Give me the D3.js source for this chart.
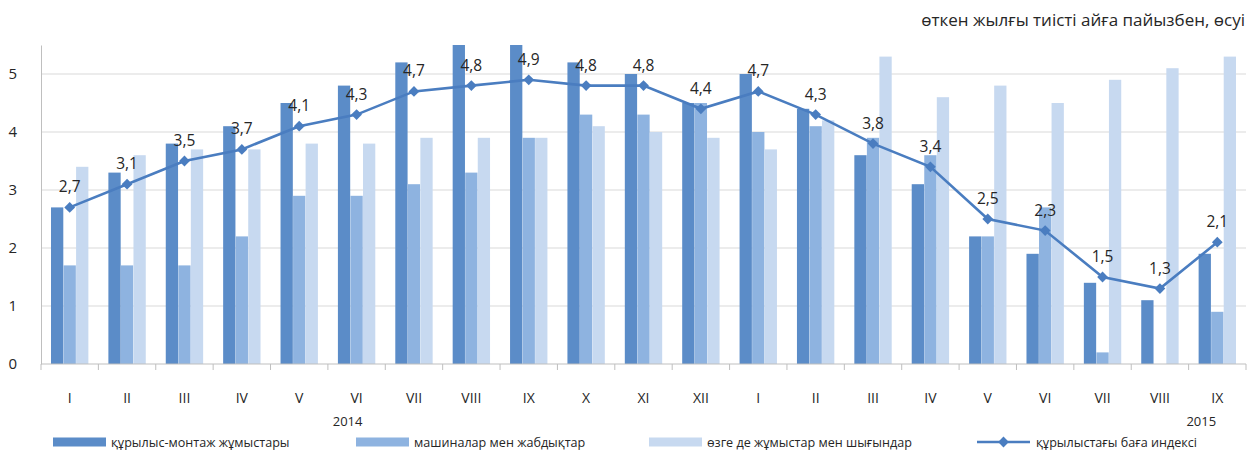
<!DOCTYPE html>
<html><head><meta charset="utf-8">
<script src="https://cdn.jsdelivr.net/npm/d3@7"></script>
<style>body{margin:0;background:#fff}svg{display:block;font-family:"Open Sans",sans-serif}</style>
</head><body><svg id="c" width="1257" height="450"></svg>
<script>
const months = ["I","II","III","IV","V","VI","VII","VIII","IX","X","XI","XII","I","II","III","IV","V","VI","VII","VIII","IX"];
const years = ["2014","2015"];
const construction = [2.7,3.3,3.8,4.1,4.5,4.8,5.2,5.5,5.5,5.2,5.0,4.5,5.0,4.4,3.6,3.1,2.2,1.9,1.4,1.1,1.9];
const machinery = [1.7,1.7,1.7,2.2,2.9,2.9,3.1,3.3,3.9,4.3,4.3,4.5,4.0,4.1,3.9,3.6,2.2,2.7,0.2,null,0.9];
const other = [3.4,3.6,3.7,3.7,3.8,3.8,3.9,3.9,3.9,4.1,4.0,3.9,3.7,4.2,5.3,4.6,4.8,4.5,4.9,5.1,5.3];
const priceIndex = [2.7,3.1,3.5,3.7,4.1,4.3,4.7,4.8,4.9,4.8,4.8,4.4,4.7,4.3,3.8,3.4,2.5,2.3,1.5,1.3,2.1];
const yTicks = [0,1,2,3,4,5];
const seriesNames = ["құрылыс-монтаж жұмыстары","машиналар мен жабдықтар","өзге де жұмыстар мен шығындар","құрылыстағы баға индексі"];
const title = "өткен жылғы тиісті айға пайызбен, өсуі";

const colors = ["#5B8CC8","#8EB3E0","#C7D9F0"];
const lineColor = "#4A7DC0";
const svg = d3.select("#c");
const L = 41, R = 1246, T = 45, B = 364;
const keys = months.map((m,i)=>i);
const x = d3.scaleBand().domain(keys).range([L,R]).paddingInner(0.34).paddingOuter(0.17);
const xs = d3.scaleBand().domain([0,1,2]).range([0,x.bandwidth()]).padding(0.02);
const y = d3.scaleLinear().domain([0,5.5]).range([B,T]);

// gridlines
svg.append("g").selectAll("line").data(yTicks.filter(d=>d>0)).join("line")
  .attr("x1",L).attr("x2",R).attr("y1",d=>y(d)).attr("y2",d=>y(d))
  .attr("stroke","#D9D9D9").attr("stroke-width",1);
// y axis
const ya = svg.append("g").attr("transform",`translate(${L},0)`)
  .call(d3.axisLeft(y).tickValues(yTicks).tickFormat(d3.format("d")).tickSize(0).tickPadding(24));
ya.select(".domain").attr("stroke","#BFBFBF");
ya.selectAll("text").attr("font-size",15).attr("fill","#262626").attr("font-family","Open Sans");

// bars
const series = [construction, machinery, other];
const g = svg.append("g");
series.forEach((s,si)=>{
  g.selectAll(null).data(s.map((v,i)=>({v,i})).filter(d=>d.v!=null)).join("rect")
    .attr("x",d=>x(d.i)+xs(si)).attr("width",xs.bandwidth())
    .attr("y",d=>y(d.v)).attr("height",d=>y(0)-y(d.v)).attr("fill",colors[si]);
});

// x axis
svg.append("line").attr("x1",L).attr("x2",R).attr("y1",B).attr("y2",B).attr("stroke","#BFBFBF");
const step = x.step();
const bounds = keys.map(k=>x(k)-(step-x.bandwidth())/2).concat([R]);
svg.append("g").selectAll("line").data(bounds).join("line")
  .attr("x1",d=>d).attr("x2",d=>d).attr("y1",B).attr("y2",B+6).attr("stroke","#BFBFBF");
svg.append("g").selectAll("text").data(keys).join("text")
  .attr("x",k=>x(k)+x.bandwidth()/2).attr("y",403).attr("text-anchor","middle")
  .attr("font-size",14).attr("fill","#262626").text(k=>months[k]);
svg.append("text").attr("x",x(5)+x.bandwidth()/2-9).attr("y",426).attr("text-anchor","middle")
  .attr("font-size",13).attr("fill","#262626").text(years[0]);
svg.append("text").attr("x",x(20)+x.bandwidth()/2-16).attr("y",426).attr("text-anchor","middle")
  .attr("font-size",13).attr("fill","#262626").text(years[1]);

// line
const cx = k=>x(k)+x.bandwidth()/2;
svg.append("path").datum(priceIndex).attr("fill","none").attr("stroke",lineColor).attr("stroke-width",2.6)
  .attr("d",d3.line().x((d,i)=>cx(i)).y(d=>y(d)));
const diamond = d3.symbol().type(d3.symbolSquare).size(58);
svg.append("g").selectAll("path").data(priceIndex).join("path")
  .attr("transform",(d,i)=>`translate(${cx(i)},${y(d)}) rotate(45)`).attr("d",diamond).attr("fill",lineColor);
svg.append("g").selectAll("text").data(priceIndex).join("text")
  .attr("x",(d,i)=>cx(i)).attr("y",d=>y(d)-15).attr("text-anchor","middle")
  .attr("font-size",15.5).attr("fill","#262626").text(d=>String(d).replace(".",","));

// title
svg.append("text").attr("x",1245).attr("y",26).attr("text-anchor","end").attr("font-size",17).attr("fill","#262626").text(title);

// legend
const ly = 442;
const legX = [53,356,649];
legX.forEach((lx,i)=>{
  svg.append("rect").attr("x",lx).attr("y",ly-4.5).attr("width",53).attr("height",9).attr("fill",colors[i]);
  svg.append("text").attr("x",lx+58).attr("y",ly+4.5).attr("font-size",12.6).attr("fill","#262626").text(seriesNames[i]);
});
svg.append("line").attr("x1",977).attr("x2",1030).attr("y1",ly).attr("y2",ly).attr("stroke",lineColor).attr("stroke-width",2.6);
svg.append("path").attr("transform",`translate(1003.5,${ly}) rotate(45)`).attr("d",diamond).attr("fill",lineColor);
svg.append("text").attr("x",1036).attr("y",ly+4.5).attr("font-size",12.6).attr("fill","#262626").text(seriesNames[3]);
</script></body></html>
